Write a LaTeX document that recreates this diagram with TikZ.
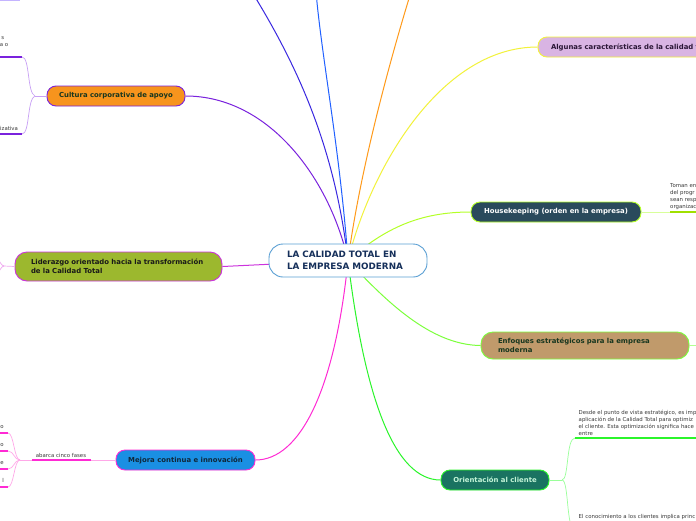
\documentclass[tikz,border=0pt]{standalone}
\usepackage{fontspec}
\setmainfont{DejaVu Sans}
\pgfdeclarelayer{bg}
\pgfsetlayers{bg,main}
\definecolor{cbord}{HTML}{5A9FD4}
\definecolor{ctext}{HTML}{152F5A}
\definecolor{purp}{HTML}{7A22DD}
\definecolor{purpl}{HTML}{C8A0F5}
\definecolor{vio}{HTML}{3A28E0}
\definecolor{blu}{HTML}{2060FF}
\definecolor{ora}{HTML}{FF9A1A}
\definecolor{yel}{HTML}{F2F23A}
\definecolor{ygr}{HTML}{B4FF28}
\definecolor{ygrd}{HTML}{A0E000}
\definecolor{ygrl}{HTML}{D8FF9A}
\definecolor{gr1}{HTML}{7CFF3C}
\definecolor{gr1l}{HTML}{B0FF90}
\definecolor{gr2}{HTML}{2BF52B}
\definecolor{gr2l}{HTML}{9AFF9A}
\definecolor{mag}{HTML}{FF2AD4}
\definecolor{magl}{HTML}{FFA8E8}
\definecolor{lmag}{HTML}{CC33DD}
\definecolor{lmagl}{HTML}{F0A8F0}
\definecolor{fcult}{HTML}{F7941D}
\definecolor{flid}{HTML}{9CB82E}
\definecolor{fmej}{HTML}{1A8FE3}
\definecolor{falg}{HTML}{D9B4E3}
\definecolor{fhk}{HTML}{2A4A5C}
\definecolor{fenf}{HTML}{C09A6B}
\definecolor{fori}{HTML}{1A7361}
\definecolor{subtxt}{HTML}{3A3A3A}
\definecolor{lav}{HTML}{C4B4FF}
\definecolor{tgreen}{HTML}{17361F}
\definecolor{tblue}{HTML}{10283A}
\definecolor{tviol}{HTML}{2A1636}
\definecolor{tmint}{HTML}{C4F5D8}
\begin{document}
\begin{tikzpicture}[x=1pt,y=-1pt,
  topic/.style={draw, rounded corners=9pt, line width=0.9pt, minimum height=20pt,
    inner sep=0pt, font=\fontsize{6.9}{9}\selectfont\bfseries, align=center},
  subtext/.style={font=\fontsize{5.4}{7}\selectfont, text=subtxt, inner sep=0pt, align=left},
  link/.style={line width=1pt},
  twig/.style={line width=0.7pt},
  under/.style={line width=1.6pt},
]
\begin{pgfonlayer}{bg}
\fill[white] (0,0) rectangle (696,520);
\end{pgfonlayer}
\useasboundingbox (0,0) rectangle (696,520);

% central node
\node[draw=cbord, fill=white, line width=0.9pt, rounded corners=14pt, minimum width=158pt,
  minimum height=33pt, inner sep=0pt, text width=122pt, align=left, text=ctext,
  font=\fontsize{8.8}{11.5}\selectfont\bfseries] (c) at (348,260.5)
  {LA CALIDAD TOTAL EN\\LA EMPRESA MODERNA};

% main topics
\node[topic, draw=purp, fill=fcult, text=tgreen, minimum width=138pt] (cult) at (116,96) {Cultura corporativa de apoyo};
\node[topic, draw=lmag, fill=flid, text=black!90, minimum width=207pt, minimum height=29pt,
  rounded corners=12pt, text width=175pt, align=left] (lid) at (118.5,266.5)
  {Liderazgo orientado hacia la transformación\\de la Calidad Total};
\node[topic, draw=mag, fill=fmej, text=tblue, minimum width=139pt] (mej) at (185.5,460) {Mejora continua e innovación};
\node[topic, draw=yel, fill=falg, text=tviol, minimum width=200pt, text width=174pt, align=left] (alg) at (638,47) {Algunas características de la calidad total};
\node[topic, draw=ygr, fill=fhk, text=white, minimum width=170pt] (hk) at (556,212) {Housekeeping (orden en la empresa)};
\node[topic, draw=gr1, fill=fenf, text=tgreen, minimum width=208pt, minimum height=27pt,
  rounded corners=12pt, text width=174pt, align=left] (enf) at (585,345.5)
  {Enfoques estratégicos para la empresa\\moderna};
\node[topic, draw=gr2, fill=fori, text=tmint, minimum width=108pt] (ori) at (495,480) {Orientación al cliente};

% free ends
\coordinate (e1) at (252,-8);
\coordinate (e2) at (316,-8);
\coordinate (e3) at (411,-8);

\begin{pgfonlayer}{bg}
\draw[link, purp] (c.center) .. controls (330,180) and (270,96) .. (cult.east);
\draw[link, vio] (c.center) .. controls (335,150) and (300,70) .. (e1);
\draw[link, blu] (c.center) .. controls (340,150) and (322,60) .. (e2);
\draw[link, ora] (c.center) .. controls (360,170) and (390,60) .. (e3);
\draw[link, yel] (c.center) .. controls (370,170) and (440,47) .. (alg.west);
\draw[link, ygr] (c.center) .. controls (385,228) and (420,212) .. (hk.west);
\draw[link, gr1] (c.center) .. controls (385,300) and (430,345) .. (enf.west);
\draw[link, gr2] (c.center) .. controls (365,400) and (395,480) .. (ori.west);
\draw[link, mag] (c.center) .. controls (335,390) and (300,460) .. (mej.east);
\draw[link, lmag] (c.center) -- (lid.east);
\end{pgfonlayer}

% --- Cultura sub-branches
\coordinate (cf) at (35,96);
\coordinate (cu1) at (22,57);
\coordinate (cu0) at (-3,57);
\coordinate (cd1) at (22,134);
\coordinate (cd0) at (-3,134);
\draw[twig, purpl] (cult.west) -- (cf);
\draw[twig, purpl] (cf) .. controls (27,93) and (30,57) .. (cu1);
\draw[twig, purpl] (cf) .. controls (27,99) and (30,134) .. (cd1);
\draw[under, purp] (cu0) -- (cu1);
\draw[under, purp] (cd0) -- (cd1);
\node[subtext, anchor=base east] (ct1) at (4.5,39.5) {s};
\node[subtext, anchor=base east] (ct2) at (8.5,46) {a o};
\node[subtext, anchor=base west] (ct3) at (0,130.5) {izativa};
\coordinate (lv0) at (-2,0.6);
\coordinate (lv1) at (20,0.6);
\draw[under, lav] (lv0) -- (lv1);

% --- Liderazgo left
\coordinate (lf) at (4,266);
\coordinate (lfa) at (-4,258);
\coordinate (lfb) at (-4,274);
\draw[twig, lmagl] (lid.west) -- (lf);
\draw[twig, lmagl] (lf) .. controls (1,266) and (0,260) .. (lfa);
\draw[twig, lmagl] (lf) .. controls (1,266) and (0,272) .. (lfb);

% --- Mejora sub-branches
\coordinate (mu2) at (91,460);
\coordinate (mu1) at (32,460);
\coordinate (mf) at (20,460);
\draw[twig, magl] (mej.west) -- (mu2);
\draw[under, mag] (mu2) -- (mu1);
\draw[twig, magl] (mu1) -- (mf);
\node[subtext, anchor=south] (mlab) at (61,457.5) {abarca cinco fases};
\foreach \yy/\tt/\nn in {433/o/1, 451/o/2, 469/e/3, 487/l/4}{
  \coordinate (m\nn) at (8,\yy);
  \coordinate (m\nn z) at (-3,\yy);
  \draw[twig, magl] (mf) .. controls (14,460) and (14,\yy) .. (m\nn);
  \draw[under, mag] (m\nn) -- (m\nn z);
  \node[subtext, anchor=base east] (mt\nn) at (4,\yy-4.5) {\tt};
}

% --- Housekeeping sub-branch
\coordinate (hkf) at (670,212);
\coordinate (hke) at (700,212);
\draw[twig, ygrl] (hk.east) -- (hkf);
\draw[under, ygrd] (hkf) -- (hke);
\node[subtext, anchor=south west] (hkt) at (670,209.5) {Toman en\\del progr\\sean resp\\organizac};

% --- Enfoques
\coordinate (enfe) at (700,345.5);
\draw[twig, gr1l] (enf.east) -- (enfe);

% --- Orientacion sub-branches
\coordinate (of) at (562,480);
\coordinate (ou1) at (575,438);
\coordinate (ou2) at (700,438);
\coordinate (ol1) at (575,530);
\draw[twig, gr2l] (ori.east) -- (of);
\draw[twig, gr2l] (of) .. controls (569,480) and (566,438) .. (ou1);
\draw[twig, gr2l] (of) .. controls (569,480) and (566,530) .. (ol1);
\draw[under, gr2] (ou1) -- (ou2);
\node[subtext, anchor=south west] (ot1) at (578.5,435.5)
  {Desde el punto de vista estratégico, es imp\\aplicación de la Calidad Total para optimiz\\el cliente. Esta optimización significa hace\\entre};
\node[subtext, anchor=north west] (ot2) at (578.5,514)
  {El conocimiento a los clientes implica princ};
\end{tikzpicture}
\end{document}
